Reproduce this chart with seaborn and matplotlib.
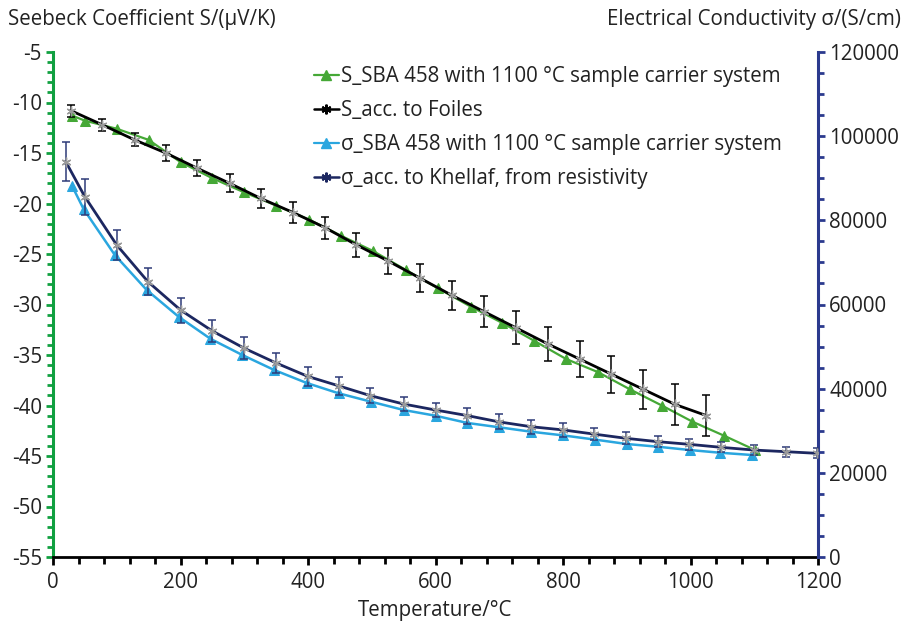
import numpy as np
import pandas as pd
import matplotlib
matplotlib.use("Agg")
import matplotlib.pyplot as plt
from matplotlib.ticker import MultipleLocator
from matplotlib.lines import Line2D
import seaborn as sns

# ---------------- data ----------------
# S_SBA 458 (green triangles), left axis
t_s_sba = [30, 50, 100, 150, 200, 250, 300, 350, 402, 452, 502, 554, 604, 655, 704,
           755, 805, 855, 905, 955, 1003, 1053, 1101]
s_sba = [-11.3, -11.8, -12.6, -13.7, -15.9, -17.5, -18.9, -20.2, -21.6, -23.2, -24.7,
         -26.6, -28.4, -30.2, -31.8, -33.6, -35.4, -36.7, -38.4, -40.0, -41.6, -43.0, -44.4]

# S acc. to Foiles (black), left axis, with error
t_s_foiles = [28, 77, 128, 177, 226, 277, 326, 377, 427, 476, 526, 576, 626, 676, 726,
              776, 826, 876, 926, 976, 1025]
s_foiles = [-10.8, -12.2, -13.7, -15.0, -16.5, -18.0, -19.5, -20.9, -22.4, -24.1, -25.7,
            -27.4, -29.1, -30.7, -32.3, -33.9, -35.4, -36.9, -38.4, -39.9, -41.0]
s_foiles_err = [0.6, 0.6, 0.65, 0.75, 0.8, 0.9, 0.95, 1.0, 1.1, 1.2, 1.3, 1.4, 1.45,
                1.55, 1.65, 1.7, 1.75, 1.85, 1.95, 2.0, 2.05]

# sigma SBA 458 (light blue triangles), right axis
t_sig_sba = [30, 48, 97, 147, 197, 247, 297, 347, 398, 448, 499, 550, 600, 650, 700,
             750, 800, 850, 900, 949, 999, 1046, 1096]
sig_sba = [88150, 82680, 71760, 63440, 57100, 51850, 48000, 44430, 41350, 38900, 36900,
           34930, 33570, 31850, 30820, 29770, 28900, 27900, 26850, 26200, 25420, 24780, 24240]

# sigma acc. to Khellaf (dark blue), right axis, with error
t_sig_kh = [20, 50, 100, 149, 200, 250, 300, 350, 400, 449, 498, 550, 600, 650, 700,
            750, 800, 849, 899, 949, 998, 1048, 1099, 1150, 1198]
sig_kh = [93930, 85600, 74130, 65410, 58690, 53700, 49600, 46100, 42900, 40630, 38330,
          36350, 34930, 33600, 32100, 30960, 30200, 29200, 28200, 27400, 26780, 26060,
          25420, 25020, 24640]
sig_kh_err = [4630, 4240, 3640, 3250, 2970, 2600, 2600, 2400, 2300, 2060, 1800, 1700,
              1750, 1900, 1800, 1700, 1600, 1500, 1400, 1300, 1300, 1200, 1200, 1200, 1200]

labels = ["S_SBA 458 with 1100 °C sample carrier system",
          "S_acc. to Foiles",
          "σ_SBA 458 with 1100 °C sample carrier system",
          "σ_acc. to Khellaf, from resistivity"]

# ---------------- style ----------------
sns.set_style("ticks")
plt.rcParams['font.family'] = ['Open Sans', 'DejaVu Sans']

GREEN = "#45a836"
BLACK = "#000000"
LBLUE = "#2aa6df"
DBLUE = "#1c2760"
LEFT_SPINE = "#10a040"
RIGHT_SPINE = "#2b3a8e"
FS = 14.8
TXT = "#222222"

fig = plt.figure(figsize=(9.07, 6.23), dpi=100)
ax = fig.add_axes([53/907, 1-557/623, (818-53)/907, (557-52)/623])
ax2 = ax.twinx()

star = (6, 2, 0)

df_sba = pd.DataFrame({"T": t_s_sba, "S": s_sba})
df_fo = pd.DataFrame({"T": t_s_foiles, "S": s_foiles})
df_sig = pd.DataFrame({"T": t_sig_sba, "sig": sig_sba})
df_kh = pd.DataFrame({"T": t_sig_kh, "sig": sig_kh})

# left axis series
sns.lineplot(data=df_sba, x="T", y="S", ax=ax, color=GREEN, marker="^", markersize=6.5,
             markeredgecolor=GREEN, linewidth=1.6, sort=False, zorder=3, legend=False)
ax.errorbar(t_s_foiles, s_foiles, yerr=s_foiles_err, fmt="none", ecolor=BLACK,
            elinewidth=1.1, capsize=3, capthick=1.1, zorder=4)
sns.lineplot(data=df_fo, x="T", y="S", ax=ax, color=BLACK, linewidth=2.0, sort=False,
             zorder=5, legend=False)
ax.plot(t_s_foiles, s_foiles, linestyle="none", marker=star, markersize=7,
        markeredgecolor="#9a9a9a", markeredgewidth=1.0, zorder=6)

# right axis series
sns.lineplot(data=df_sig, x="T", y="sig", ax=ax2, color=LBLUE, marker="^", markersize=6.5,
             markeredgecolor=LBLUE, linewidth=1.8, sort=False, zorder=3, legend=False)
ax2.errorbar(t_sig_kh, sig_kh, yerr=sig_kh_err, fmt="none", ecolor="#2e3b78",
             elinewidth=1.1, capsize=3, capthick=1.1, zorder=4)
sns.lineplot(data=df_kh, x="T", y="sig", ax=ax2, color=DBLUE, linewidth=2.0, sort=False,
             zorder=5, legend=False)
ax2.plot(t_sig_kh, sig_kh, linestyle="none", marker=star, markersize=7,
         markeredgecolor="#9a9a9a", markeredgewidth=1.0, zorder=6)

# ---------------- axes ----------------
ax.set_xlim(0, 1200)
ax.set_ylim(-55, -5)
ax2.set_ylim(0, 120000)

ax.xaxis.set_major_locator(MultipleLocator(200))
ax.xaxis.set_minor_locator(MultipleLocator(40))
ax.yaxis.set_major_locator(MultipleLocator(5))
ax.yaxis.set_minor_locator(MultipleLocator(1))
ax2.yaxis.set_major_locator(MultipleLocator(20000))
ax2.yaxis.set_minor_locator(MultipleLocator(5000))

ax.set_xlabel("Temperature/°C", fontsize=FS, color=TXT, labelpad=4.5)
ax.set_ylabel("")
ax2.set_ylabel("")

for a in (ax, ax2):
    a.spines["top"].set_visible(False)
ax.spines["right"].set_visible(False)
ax2.spines["left"].set_visible(False)
ax2.spines["bottom"].set_visible(False)
ax.spines["left"].set_color(LEFT_SPINE)
ax.spines["left"].set_linewidth(2.2)
ax.spines["bottom"].set_color("black")
ax.spines["bottom"].set_linewidth(2.0)
ax2.spines["right"].set_color(RIGHT_SPINE)
ax2.spines["right"].set_linewidth(2.2)

ax.tick_params(axis="x", which="both", direction="out", colors="black", width=2,
               labelsize=FS, labelcolor=TXT, pad=5)
ax.tick_params(axis="x", which="major", length=6)
ax.tick_params(axis="x", which="minor", length=5)
ax.tick_params(axis="y", which="both", direction="out", colors=LEFT_SPINE, width=2,
               labelsize=FS, labelcolor=TXT, pad=3)
ax.tick_params(axis="y", which="major", length=5)
ax.tick_params(axis="y", which="minor", length=4)
ax2.tick_params(axis="y", which="both", direction="out", colors=RIGHT_SPINE, width=2,
                labelsize=FS, labelcolor=TXT, pad=3)
ax2.tick_params(axis="y", which="major", length=5)
ax2.tick_params(axis="y", which="minor", length=4)

ax.set_yticks(np.arange(-55, -4, 5))
ax.set_yticklabels([str(v) for v in range(-55, -4, 5)])

fig.text(8/907, 1-19/623, "Seebeck Coefficient S/(µV/K)", fontsize=FS, color=TXT,
         ha="left", va="center")
fig.text(901/907, 1-19/623, "Electrical Conductivity σ/(S/cm)", fontsize=FS,
         color=TXT, ha="right", va="center")

# ---------------- legend ----------------
handles = [
    Line2D([], [], color=GREEN, marker="^", markersize=6.5, linewidth=1.6),
    Line2D([], [], color=BLACK, marker=star, markersize=7, markeredgewidth=1.5, linewidth=1.8),
    Line2D([], [], color=LBLUE, marker="^", markersize=6.5, linewidth=1.6),
    Line2D([], [], color=DBLUE, marker=star, markersize=7, markeredgewidth=1.5, linewidth=1.8),
]
leg = ax2.legend(handles, labels, loc="upper left", bbox_to_anchor=(0.325, 0.997),
                 frameon=False, fontsize=FS, handlelength=1.2, handletextpad=0.1,
                 labelspacing=0.63, borderaxespad=0.2)
for txt in leg.get_texts():
    txt.set_color(TXT)

fig.savefig("out.png", dpi=100)
